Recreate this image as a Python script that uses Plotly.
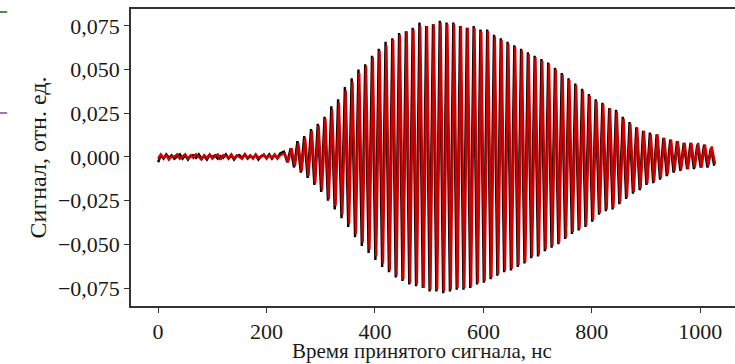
import numpy as np
import plotly.graph_objects as go

# ---- data ----
noise_step = 5.0
black_noise = [-0.003, 0.001, -0.001, 0.0015, -0.0005, 0.001, -0.001, 0.0005, 0.0015, -0.001,
               0.001, -0.0015, 0.0005, 0.001, -0.0005, 0.0015, -0.001, 0.0005, -0.0015, 0.001,
               0.0, 0.001, -0.001, 0.0005, -0.0005, 0.0015, -0.001, 0.001, -0.0015, 0.0005,
               0.001, -0.0005, 0.0015, -0.001, 0.0005, -0.0005, 0.001, -0.0015, 0.0005, 0.001,
               -0.0005, 0.0015, -0.001, 0.001, -0.0005, 0.002]
red_noise = [-0.001, 0.0015, -0.0005, 0.001, -0.0015, 0.0005, 0.0, 0.0015, -0.001, 0.0005,
             0.0015, -0.001, 0.001, -0.0005, 0.0015, 0.0, -0.0015, 0.001, -0.0005, 0.0015,
             -0.001, 0.0005, 0.0015, -0.0015, 0.001, 0.0005, -0.0005, 0.0015, -0.001, 0.001,
             0.0, -0.001, 0.0015, -0.0005, 0.001, -0.001, 0.0015, -0.0005, 0.0, 0.0015,
             -0.001, 0.001, -0.0005, 0.0015, -0.001, 0.001]

osc_start_black = 232.0
osc_start_red = 233.5
period = 12.5

black_pos = [0.003, 0.005, 0.009, 0.012, 0.016, 0.019, 0.023, 0.029, 0.033, 0.040,
             0.045, 0.050, 0.053, 0.058, 0.062, 0.066, 0.068, 0.071, 0.072, 0.074,
             0.077, 0.075, 0.076, 0.078, 0.077, 0.077, 0.075, 0.074, 0.075, 0.073,
             0.073, 0.070, 0.068, 0.066, 0.064, 0.062, 0.060, 0.058, 0.056, 0.054,
             0.051, 0.048, 0.045, 0.042, 0.039, 0.036, 0.033, 0.031, 0.028, 0.027,
             0.023, 0.020, 0.017, 0.015, 0.014, 0.013, 0.011, 0.010, 0.009, 0.008,
             0.008, 0.007, 0.007, 0.005]
black_neg = [-0.003, -0.006, -0.009, -0.012, -0.016, -0.020, -0.025, -0.030, -0.035, -0.040,
             -0.046, -0.051, -0.055, -0.059, -0.063, -0.066, -0.069, -0.071, -0.073, -0.074,
             -0.075, -0.077, -0.077, -0.078, -0.077, -0.076, -0.076, -0.075, -0.073, -0.072,
             -0.070, -0.068, -0.066, -0.065, -0.063, -0.061, -0.058, -0.057, -0.054, -0.052,
             -0.050, -0.047, -0.044, -0.042, -0.040, -0.037, -0.033, -0.031, -0.030, -0.027,
             -0.024, -0.021, -0.019, -0.016, -0.015, -0.013, -0.011, -0.009, -0.008, -0.007,
             -0.007, -0.006, -0.006, -0.005]
red_pos = [0.002, 0.005, 0.008, 0.011, 0.015, 0.018, 0.022, 0.027, 0.031, 0.038,
           0.043, 0.048, 0.052, 0.057, 0.061, 0.064, 0.067, 0.070, 0.072, 0.073,
           0.075, 0.075, 0.076, 0.077, 0.076, 0.076, 0.075, 0.074, 0.074, 0.072,
           0.072, 0.069, 0.067, 0.065, 0.063, 0.061, 0.059, 0.057, 0.055, 0.053,
           0.050, 0.047, 0.044, 0.041, 0.038, 0.035, 0.032, 0.030, 0.028, 0.026,
           0.022, 0.019, 0.017, 0.015, 0.013, 0.013, 0.011, 0.010, 0.009, 0.008,
           0.008, 0.008, 0.007, 0.006]
red_neg = [-0.003, -0.005, -0.008, -0.011, -0.015, -0.019, -0.024, -0.028, -0.033, -0.038,
           -0.044, -0.049, -0.053, -0.057, -0.061, -0.065, -0.068, -0.070, -0.072, -0.073,
           -0.075, -0.076, -0.076, -0.077, -0.076, -0.075, -0.075, -0.074, -0.072, -0.071,
           -0.069, -0.067, -0.065, -0.064, -0.062, -0.060, -0.057, -0.056, -0.053, -0.051,
           -0.049, -0.046, -0.043, -0.041, -0.039, -0.036, -0.032, -0.030, -0.029, -0.026,
           -0.023, -0.020, -0.018, -0.015, -0.014, -0.012, -0.010, -0.008, -0.007, -0.007,
           -0.006, -0.006, -0.005, -0.004]

x_tick_vals = [0, 200, 400, 600, 800, 1000]
y_tick_vals = [-0.075, -0.050, -0.025, 0.0, 0.025, 0.050, 0.075]
x_title = "Время принятого сигнала, нс"
y_title = "Сигнал, отн. ед."


def build(noise, pos, neg, start):
    t_noise = np.arange(len(noise)) * noise_step
    n = min(len(pos), len(neg))
    t_pos = start + np.arange(n) * period
    t_neg = t_pos + period / 2
    t_osc = np.empty(2 * n)
    v_osc = np.empty(2 * n)
    t_osc[0::2] = t_pos
    t_osc[1::2] = t_neg
    v_osc[0::2] = pos[:n]
    v_osc[1::2] = neg[:n]
    return np.concatenate([t_noise, t_osc]), np.concatenate([noise, v_osc])


tb, vb = build(black_noise, black_pos, black_neg, osc_start_black)
tr, vr = build(red_noise, red_pos, red_neg, osc_start_red)

fam = "Liberation Serif, Times New Roman, serif"
f_tick = dict(family=fam, size=22, color="#1a1a1a")
f_title = dict(family=fam, size=21, color="#1a1a1a")
f_ytitle = dict(family=fam, size=24, color="#1a1a1a")

fig = go.Figure()
fig.add_trace(go.Scatter(x=tb, y=vb, mode="lines", line=dict(color="#000000", width=2.4),
                         showlegend=False))
fig.add_trace(go.Scatter(x=tr, y=vr, mode="lines", line=dict(color="#cc0000", width=2.4),
                         showlegend=False))

axis_col = "#333333"
fig.update_layout(
    width=735, height=364,
    margin=dict(l=131, r=0, t=9, b=58),
    paper_bgcolor="white", plot_bgcolor="white",
    separators=", ",
    font=f_tick,
    xaxis=dict(range=[-50, 1064], tickvals=x_tick_vals, ticks="outside", ticklen=5,
               tickwidth=1.3, tickcolor=axis_col, showline=True, linecolor=axis_col,
               linewidth=1.5, mirror=True, showgrid=False, zeroline=False,
               tickfont=f_tick),
    yaxis=dict(range=[-0.0853, 0.0847], tickvals=y_tick_vals, tickformat=".3f",
               ticks="outside", ticklen=5, tickwidth=1.3, tickcolor=axis_col,
               showline=True, linecolor=axis_col, linewidth=1.5, showgrid=False,
               zeroline=False, title=dict(text=y_title, standoff=5, font=f_ytitle),
               tickfont=f_tick),
    annotations=[dict(text=x_title, xref="paper", yref="paper", x=0.482, y=-0.15,
                      xanchor="center", yanchor="middle", showarrow=False, font=f_title)],
    shapes=[
        dict(type="line", xref="paper", yref="paper", x0=-0.217, x1=-0.205, y0=0.99, y1=0.99,
             line=dict(color="#4a8a4a", width=2)),
        dict(type="line", xref="paper", yref="paper", x0=-0.217, x1=-0.205, y0=0.65, y1=0.65,
             line=dict(color="#9a78a8", width=2)),
    ],
)

fig.write_html("out.html")
